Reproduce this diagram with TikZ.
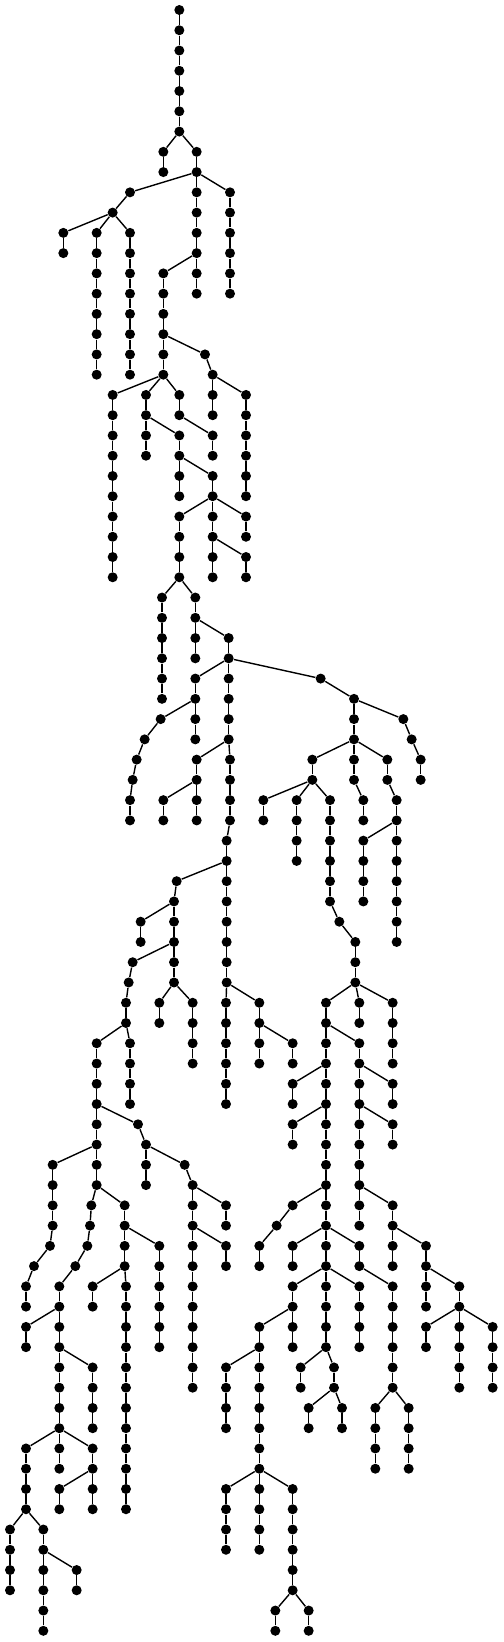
\documentclass[tikz,border=0pt]{standalone}
\tikzset{dot/.style={circle,fill=black,inner sep=0pt,minimum size=5pt},
  edge/.style={line width=0.7pt,black}}
\newcommand\R[3]{\node[dot] (#1) at ({#2/6},{-(10+20.26*#3)/2}) {};}
\newcommand\T[4]{\node[dot] (#1) at ({#2/6},{-(10+20.26*#3)/2}) {};\draw[edge] (#4) -- (#1);}
\newcommand\C[5]{\foreach \l in {#3,...,#4}{%
  \pgfmathtruncatemacro\lp{\l-1}%
  \ifnum\l=#3\relax\T{#1\l}{#2}{\l}{#5}\else\T{#1\l}{#2}{\l}{#1\lp}\fi}}
\begin{document}
\begin{tikzpicture}[x=1pt,y=1pt]
\fill[white] (0,0) rectangle (251.5,-821);
\useasboundingbox (0,0) rectangle (251.5,-821);
\R{r0}{538}{0}
\C{r}{538}{1}{6}{r0}
\C{aa}{490}{7}{8}{r6}
\C{ab}{590}{7}{8}{r6}
\T{ac9}{390}{9}{ab8}
\T{ac10}{338}{10}{ac9}
\C{ad}{190}{11}{12}{ac10}
\C{ae}{290}{11}{18}{ac10}
\C{af}{390}{11}{18}{ac10}
\C{ag}{590}{9}{12}{ab8}
\C{ah}{490}{13}{16}{ag12}
\C{ai}{590}{13}{14}{ag12}
\C{aj}{690}{9}{14}{ab8}
\C{ak}{490}{17}{18}{ah16}
\T{al17}{615}{17}{ah16}
\T{al18}{638}{18}{al17}
\C{am}{338}{19}{28}{ak18}
\C{an}{438}{19}{22}{ak18}
\C{ao}{538}{19}{20}{ak18}
\C{ap}{638}{21}{22}{ao20}
\C{aq}{538}{21}{22}{an20}
\C{as}{538}{23}{24}{aq22}
\C{at}{638}{23}{24}{aq22}
\C{au}{538}{25}{28}{at24}
\C{aw}{638}{25}{26}{at24}
\C{ax}{638}{27}{28}{aw26}
\C{ay}{738}{27}{28}{aw26}
\C{az}{738}{25}{26}{at24}
\C{al}{638}{19}{20}{al18}
\C{ba}{738}{19}{24}{al18}
\C{bb}{486}{29}{34}{au28}
\C{bc}{586}{29}{30}{au28}
\C{bd}{586}{31}{32}{bc30}
\C{be}{686}{31}{32}{bc30}
\C{bf}{586}{33}{34}{be32}
\T{bg35}{482}{35}{bf34}
\T{bg36}{434}{36}{bg35}
\T{bg37}{410}{37}{bg36}
\T{bg38}{398}{38}{bg37}
\T{bg39}{390}{39}{bg38}
\T{bg40}{390}{40}{bg39}
\C{bh}{586}{35}{36}{bf34}
\C{bi}{686}{33}{36}{be32}
\C{bj}{590}{37}{38}{bi36}
\C{bk}{490}{39}{40}{bj38}
\C{bl}{590}{39}{40}{bj38}
\C{bm}{690}{37}{40}{bi36}
\C{bn}{680}{41}{48}{bm40}
\T{bo43}{530}{43}{bn42}
\T{bo44}{522}{44}{bo43}
\C{bp}{422}{45}{46}{bo44}
\C{bq}{522}{45}{48}{bo44}
\T{br47}{398}{47}{bq46}
\T{br48}{386}{48}{br47}
\C{br}{378}{49}{50}{br48}
\C{bs}{290}{51}{56}{br50}
\C{bt}{158}{57}{60}{bs56}
\T{bt61}{150}{61}{bt60}
\T{bt62}{102}{62}{bt61}
\C{bt}{78}{63}{64}{bt62}
\C{bv}{290}{57}{58}{bs56}
\T{bw59}{274}{59}{bv58}
\T{bw60}{270}{60}{bw59}
\T{bw61}{262}{61}{bw60}
\T{bw62}{226}{62}{bw61}
\C{bw}{178}{63}{70}{bw62}
\C{bu}{78}{65}{66}{bw64}
\C{ci}{278}{67}{70}{bw66}
\C{bz}{78}{71}{74}{bw70}
\C{ca}{30}{75}{78}{bz74}
\C{cb}{130}{75}{80}{bz74}
\C{cd}{230}{77}{78}{cb76}
\C{ce}{178}{71}{72}{bw70}
\C{cf}{278}{71}{74}{bw70}
\C{cg}{178}{73}{74}{cf72}
\C{cj}{374}{59}{62}{bv58}
\C{cl}{278}{63}{64}{cj62}
\C{cm}{378}{63}{74}{cj62}
\C{cn}{478}{61}{66}{cj60}
\C{co}{390}{51}{54}{br50}
\T{cp55}{414}{55}{bs54}
\T{cp56}{438}{56}{cp55}
\C{cq}{438}{57}{58}{cp56}
\T{cr57}{554}{57}{cp56}
\T{cr58}{578}{58}{cr57}
\C{cs}{578}{59}{68}{cr58}
\C{cu}{678}{61}{62}{cs60}
\C{cv}{678}{59}{60}{cr58}
\C{cx}{678}{49}{54}{bn48}
\C{cy}{778}{49}{52}{bn48}
\C{da}{878}{51}{52}{cy50}
\C{db}{478}{49}{50}{bq48}
\C{dc}{578}{49}{52}{bq48}
\T{ea33}{962}{33}{be32}
\C{ea}{1062}{34}{38}{ea33}
\T{eb35}{1210}{35}{ea34}
\T{eb36}{1235}{36}{eb35}
\C{eb}{1262}{37}{38}{eb36}
\C{ec}{937}{37}{38}{ea36}
\C{ed}{790}{39}{40}{ec38}
\C{ee}{890}{39}{42}{ec38}
\C{ef}{990}{39}{44}{ec38}
\T{ef45}{1018}{45}{ef44}
\C{eg}{1066}{46}{48}{ef45}
\C{eh}{1090}{39}{40}{ea38}
\C{ei}{1162}{37}{38}{ea36}
\C{ej}{1190}{39}{46}{ei38}
\C{ek}{1090}{41}{44}{ej40}
\C{el}{978}{49}{66}{eg48}
\C{em}{878}{53}{54}{el52}
\C{eo}{878}{55}{56}{el54}
\T{eq59}{878}{59}{el58}
\T{eq60}{830}{60}{eq59}
\C{eq}{778}{61}{62}{eq60}
\C{es}{878}{61}{62}{el60}
\C{eu}{878}{63}{66}{el62}
\C{ev}{778}{65}{76}{eu64}
\C{ew}{678}{67}{70}{ev66}
\C{ey}{678}{73}{76}{ev72}
\C{fa}{878}{73}{78}{ev72}
\C{fb}{826}{79}{80}{fa78}
\C{fc}{926}{79}{80}{fa78}
\C{ff}{902}{67}{68}{el66}
\C{fg}{1002}{67}{68}{el66}
\C{fh}{926}{69}{70}{fg68}
\C{fi}{1026}{69}{70}{fg68}
\C{fj}{1078}{63}{66}{el62}
\C{fk}{1078}{61}{62}{el60}
\C{fl}{1178}{63}{68}{fk62}
\C{fm}{1126}{69}{72}{fl68}
\C{fn}{1226}{69}{72}{fl68}
\C{fo}{1078}{49}{50}{eg48}
\C{fp}{1178}{49}{52}{eg48}
\C{fq}{1078}{51}{60}{el50}
\C{fs}{1178}{53}{54}{fq52}
\C{fu}{1178}{55}{56}{fq54}
\C{fv}{1178}{59}{62}{fq58}
\C{fx}{1278}{61}{64}{fv60}
\C{fz}{1378}{63}{68}{fx62}
\C{ga}{1278}{65}{66}{fz64}
\C{gc}{1478}{65}{68}{fz64}
\end{tikzpicture}
\end{document}
